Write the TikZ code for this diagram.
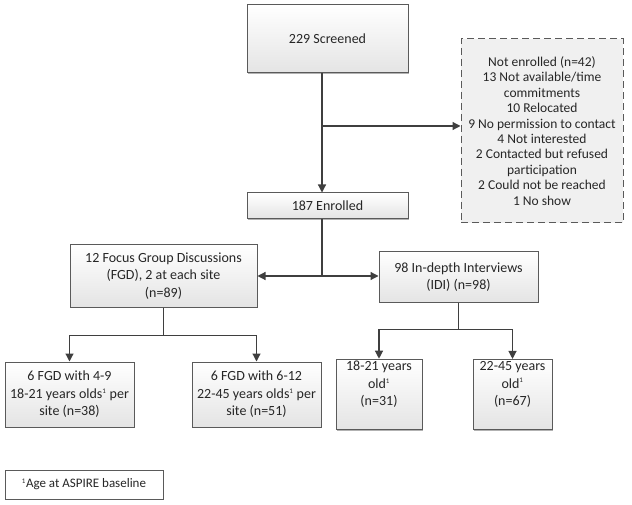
\documentclass[tikz,border=0pt]{standalone}
\usepackage{fontspec}
\setmainfont{Carlito}
\usetikzlibrary{arrows.meta, positioning, shadows}
\definecolor{cline}{HTML}{3F3F3F}
\definecolor{cedge}{HTML}{5A5A5A}
\definecolor{ctext}{HTML}{262626}
\definecolor{cfill}{HTML}{E4E4E4}
\tikzset{
  every picture/.style={font=\fontsize{14}{17.5}\selectfont, line width=1pt},
  box/.style={draw=cedge, top color=white, bottom color=cfill, align=center, inner sep=2pt, text=ctext,
    drop shadow={shadow xshift=1.3pt, shadow yshift=-1.3pt, fill=black, opacity=0.3}},
  arrow/.style={-{Triangle[length=8pt, width=8pt]}, draw=cline, line width=1.2pt},
  link/.style={draw=cline, line width=1.2pt},
  dropout/.style={draw=cedge, dashed, dash pattern=on 7pt off 4pt, fill=cfill!55, align=center, inner sep=2pt, text=ctext,
    font=\fontsize{13.5}{15.4}\selectfont},
  foot/.style={draw=cedge, fill=white, align=center, inner sep=2pt, text=ctext, font=\fontsize{13}{15}\selectfont,
    drop shadow={shadow xshift=1.2pt, shadow yshift=-1.2pt, fill=black, opacity=0.3}},
}
\newcommand{\agesup}{\textsuperscript{\fontsize{7}{7}\selectfont 1}}

\begin{document}
\begin{tikzpicture}[x=1pt, y=-1pt]
  \useasboundingbox (0,0) rectangle (632,505);

  % screening
  \node[box, minimum width=161pt, minimum height=68pt] (scr) at (327.5,39) {229 Screened};
  \node[dropout, minimum width=162pt, minimum height=184pt] (notenr) at (542,131)
    {Not enrolled (n=42)\\13 Not available/time\\commitments\\10 Relocated\\9 No permission to contact\\4 Not interested\\2 Contacted but refused\\participation\\2 Could not be reached\\1 No show};
  \node[box, minimum width=161pt, minimum height=26pt] (enr) at (327.5,206) {187 Enrolled};
  \coordinate (top) at (322,73);
  \coordinate (br) at (322,126);
  \draw[arrow] (top) -- (top |- enr.north);
  \draw[arrow] (br) -- (notenr.west |- br);

  % study arms
  \node[box, minimum width=187pt, minimum height=62pt] (fgd) at (163.5,276)
    {12 Focus Group Discussions\\(FGD), 2 at each site\\(n=89)};
  \node[box, minimum width=159pt, minimum height=50pt] (idi) at (458.5,277)
    {98 In-depth Interviews\\(IDI) (n=98)};
  \coordinate (jn) at (322,276);
  \draw[link] (top |- enr.south) -- (jn);
  \draw[arrow] (jn) -- (fgd.east |- jn);
  \draw[arrow] (jn) -- (idi.west |- jn);

  % focus groups
  \node[box, minimum width=129pt, minimum height=65pt] (fa) at (69.5,394.5)
    {6 FGD with 4-9\\18-21 years olds\agesup{} per\\site (n=38)};
  \node[box, minimum width=129pt, minimum height=65pt] (fb) at (256.5,394.5)
    {6 FGD with 6-12\\22-45 years olds\agesup{} per\\site (n=51)};
  \draw[arrow] (fgd.south) -- ++(0,28) -| (fa.north);
  \draw[arrow] (fgd.south) -- ++(0,28) -| (fb.north);

  % interviews
  \node[box, minimum width=86pt, minimum height=65pt] (ia) at (379,394.5)
    {18-21 years\\old\agesup\\(n=31)\rule[-22pt]{0pt}{0pt}};
  \node[box, minimum width=79pt, minimum height=65pt] (ib) at (512.5,394.5)
    {22-45 years\\old\agesup\\(n=67)\rule[-22pt]{0pt}{0pt}};
  \draw[arrow] (idi.south) -- ++(0,27) -| (ia.north);
  \draw[arrow] (idi.south) -- ++(0,27) -| (ib.north);

  % footnote
  \node[foot, minimum width=158pt, minimum height=29pt] (fn) at (84,484.5) {\agesup Age at ASPIRE baseline};
\end{tikzpicture}
\end{document}
